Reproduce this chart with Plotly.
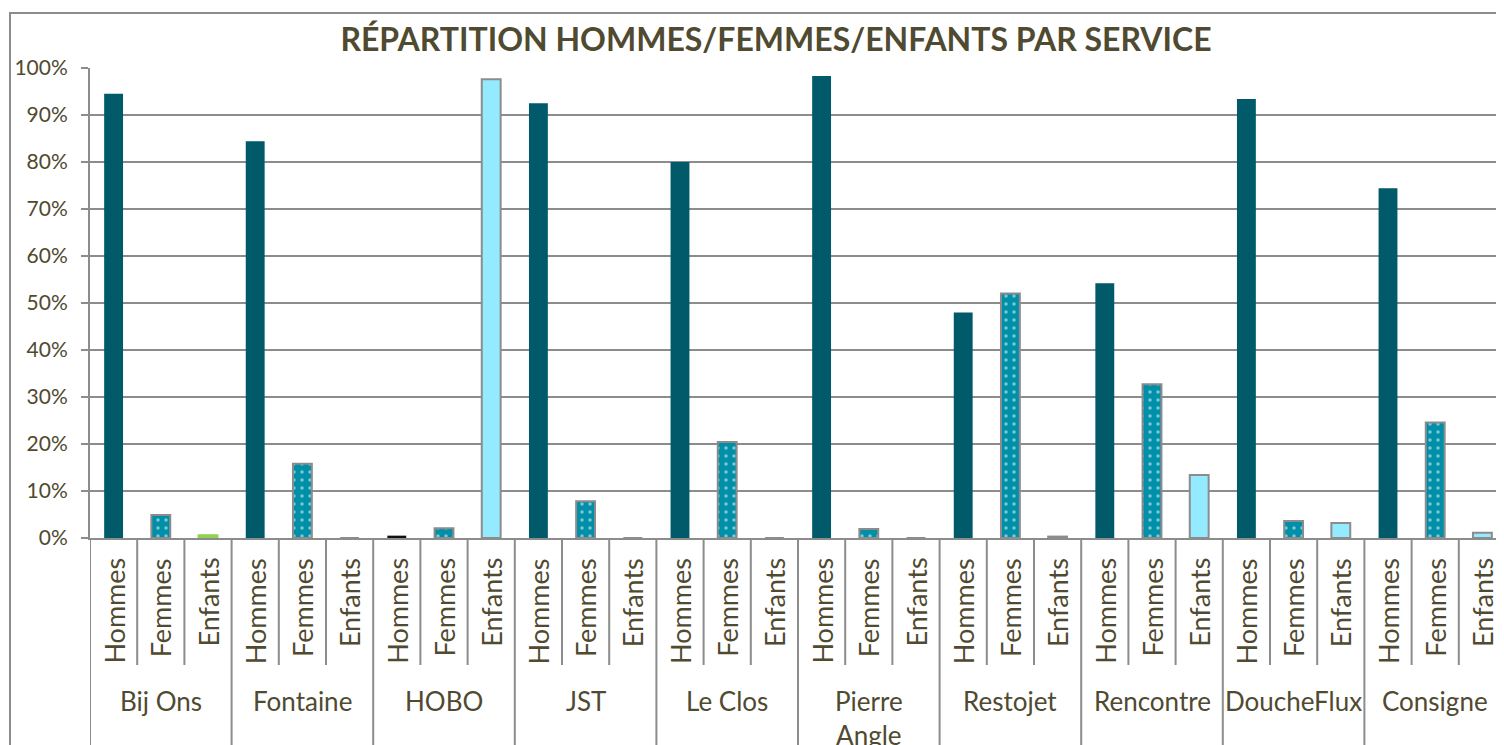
import plotly.graph_objects as go

services = ["Bij Ons", "Fontaine", "HOBO", "JST", "Le Clos", "Pierre<br>Angle",
            "Restojet", "Rencontre", "DoucheFlux", "Consigne"]
genres = ["Hommes", "Femmes", "Enfants"]
hommes = [94.5, 84.4, 0.5, 92.5, 80.0, 98.3, 48.0, 54.2, 93.4, 74.4]
femmes = [4.9, 15.8, 2.1, 7.8, 20.4, 1.9, 52.0, 32.7, 3.6, 24.6]
enfants = [0.6, 0.0, 97.6, 0.0, 0.0, 0.0, 0.3, 13.4, 3.2, 1.1]

TXT = "#4F4A30"
GRID = "#8C8C8C"
FONT = "Lato"

keys = [f"{s} | {g}" for s in services for g in genres]
x_h = [f"{s} | Hommes" for s in services]
x_f = [f"{s} | Femmes" for s in services]
x_e = [f"{s} | Enfants" for s in services]

c_h = ["#005A6A"] * len(services)
c_h[2] = "#111111"
c_e = ["#94EBFF"] * len(services)
c_e[0] = "#92D050"
c_e[6] = "#B8C4C8"
l_e = ["#8C8C8C"] * len(services)
l_e[0] = "#92D050"

fig = go.Figure()
fig.add_trace(go.Bar(x=x_h, y=hommes, marker=dict(color=c_h, line=dict(width=0)),
                     width=0.4, name="Hommes"))
fig.add_trace(go.Bar(x=x_f, y=femmes,
                     marker=dict(color="#008FA8", line=dict(color="#8C8C8C", width=2),
                                 pattern=dict(shape=".", fgcolor="white", bgcolor="#008FA8",
                                              size=8, solidity=0.15)),
                     width=0.4, name="Femmes"))
fig.add_trace(go.Bar(x=x_e, y=enfants, marker=dict(color=c_e, line=dict(color=l_e, width=2)),
                     width=0.4, name="Enfants"))

W, H = 1504, 745
L, T = 82, 60
PW = 1416
PH = 470


def py(screen_y):
    # screen pixel (page has 8px body margin) -> paper y
    return -(screen_y - 8 - (T + PH)) / PH


fig.update_layout(
    width=W, height=H,
    margin=dict(l=L, r=W - L - PW, t=T, b=H - T - PH, autoexpand=False),
    plot_bgcolor="white", paper_bgcolor="white",
    barmode="overlay", showlegend=False,
    font=dict(family=FONT, color=TXT, size=20),
    title=dict(text="<b>RÉPARTITION HOMMES/FEMMES/ENFANTS PAR SERVICE</b>",
               x=768 / W, xanchor="center", y=1 - 32 / H, yanchor="middle",
               font=dict(family=FONT, size=32, color=TXT)),
    xaxis=dict(type="category", categoryorder="array", categoryarray=keys,
               range=[-0.5, len(keys) - 0.5], showticklabels=False, ticks="",
               showline=True, linecolor=GRID, linewidth=2, showgrid=False),
    yaxis=dict(range=[0, 100], dtick=10, ticksuffix="%", showgrid=True, gridcolor=GRID, gridwidth=2,
               showline=True, linecolor=GRID, linewidth=2, ticks="outside", tickcolor=GRID,
               ticklen=7, tickwidth=2, zeroline=False, ticklabelstandoff=9,
               tickfont=dict(size=21, family=FONT, color=TXT)),
)

# inner (genre) labels, vertical
for k in keys:
    g = k.split(" | ")[1]
    fig.add_annotation(x=k, xref="x", y=py(557), yref="paper", text=g, textangle=-90,
                       showarrow=False, xanchor="center", yanchor="top", borderpad=0,
                       font=dict(family=FONT, size=27, color=TXT))
# group (service) labels
for j, s in enumerate(services):
    fig.add_annotation(x=keys[3 * j + 1], xref="x", y=py(684), yref="paper", text=s,
                       showarrow=False, xanchor="center", yanchor="top", borderpad=0,
                       font=dict(family=FONT, size=26, color=TXT))
# category boundary lines / dividers
for i in range(len(keys) + 1):
    bottom = py(800) if i % 3 == 0 else py(665)
    fig.add_shape(type="line", xref="x", yref="paper", x0=i - 0.5, x1=i - 0.5, y0=0, y1=bottom,
                  line=dict(color=GRID, width=2))

fig.add_shape(type="rect", xref="paper", yref="paper", x0=-80 / PW, x1=1.01,
              y0=-0.7, y1=1 + 55 / PH,
              line=dict(color=GRID, width=2), fillcolor="rgba(0,0,0,0)", layer="below")
fig.write_html("out.html")
